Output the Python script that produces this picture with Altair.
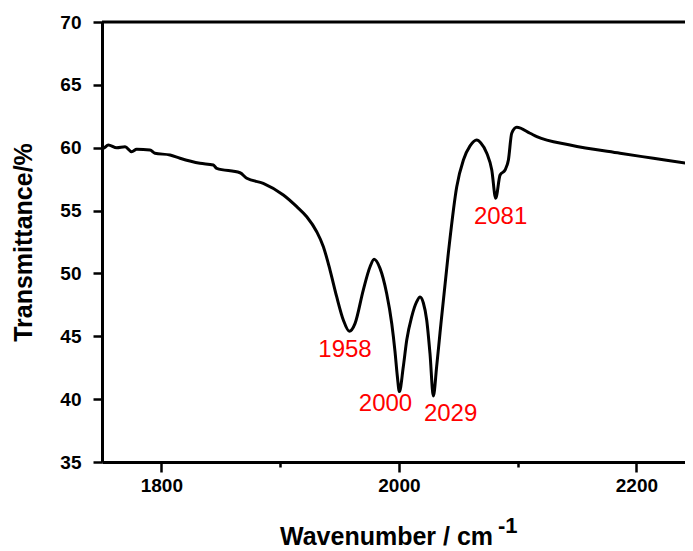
import altair as alt
import pandas as pd

# Spectrum (wavenumber in cm-1, transmittance in %)
wavenumber = [1750.0, 1751.1, 1755.3, 1762.4, 1769.4, 1775.0, 1779.2, 1790.4, 1794.6, 1807.3,
              1815.7, 1832.5, 1843.7, 1846.6, 1866.2, 1871.9, 1885.8, 1902.7, 1914.0, 1922.4,
              1930.8, 1936.4, 1942.0, 1947.6, 1953.2, 1958.3, 1963.1, 1970.0, 1975.7, 1979.1,
              1984.1, 1989.7, 1994.0, 1996.7, 1998.7, 2000.4, 2003.7, 2006.6, 2010.8, 2015.0,
              2017.8, 2020.6, 2023.4, 2026.2, 2029.0, 2031.8, 2034.6, 2041.6, 2048.7, 2054.3,
              2059.9, 2065.5, 2069.0, 2074.0, 2078.2, 2081.5, 2085.2, 2089.4, 2092.2, 2095.0,
              2099.2, 2110.4, 2116.1, 2144.1, 2186.2, 2214.3, 2246.6, 2250.0]
transmittance = [59.95, 59.95, 60.22, 60.00, 60.08, 59.68, 59.87, 59.82, 59.56, 59.42,
                 59.16, 58.76, 58.62, 58.36, 58.01, 57.57, 57.17, 56.24, 55.31, 54.51,
                 53.32, 52.13, 50.27, 48.15, 46.30, 45.40, 46.03, 48.68, 50.53, 51.12,
                 50.40, 48.40, 46.00, 43.80, 41.80, 40.60, 42.58, 44.70, 46.56, 47.75,
                 48.12, 47.65, 46.30, 43.60, 40.25, 42.60, 45.26, 51.60, 56.90, 59.02,
                 60.14, 60.61, 60.38, 59.56, 58.23, 55.98, 57.83, 58.23, 59.02, 61.15,
                 61.62, 61.15, 60.88, 60.22, 59.56, 59.16, 58.70, 58.65]

peak_labels = ["1958", "2000", "2029", "2081"]
peak_label_x = [1954.6, 1988.7, 2043.5, 2085.6]
peak_label_y = [43.9, 39.6, 38.85, 54.5]

x_ticks = [1800, 1900, 2000, 2100, 2200]
y_ticks = [35, 37.5, 40, 42.5, 45, 47.5, 50, 52.5, 55, 57.5, 60, 62.5, 65, 67.5, 70]

W = 583
H = 440
FONT = "Liberation Sans"

spec = pd.DataFrame({"wn": wavenumber, "T": transmittance})
labels = pd.DataFrame({"label": peak_labels, "wn": peak_label_x, "T": peak_label_y})

xscale = alt.Scale(domain=[1750, 2240.9], nice=False, zero=False)
yscale = alt.Scale(domain=[35, 70], nice=False, zero=False)

xaxis = alt.Axis(
    values=x_ticks, title=None, grid=False, format="d",
    labelExpr="datum.value % 200 == 0 ? datum.label : ''",
    labelFont=FONT, labelFontSize=19, labelFontWeight="bold", labelColor="black",
    labelPadding=4, labelFlush=False,
    tickSize=alt.condition("datum.value % 200 == 0", alt.value(10), alt.value(5)),
    tickWidth=2.5, tickColor="black", domainColor="black", domainWidth=3,
)
yaxis = alt.Axis(
    values=y_ticks, title="Transmittance/%", grid=False, format="d",
    labelExpr="datum.value % 5 == 0 ? datum.label : ''",
    labelFont=FONT, labelFontSize=19, labelFontWeight="bold", labelColor="black",
    labelPadding=12, labelFlush=False,
    tickSize=alt.condition("datum.value % 5 == 0", alt.value(9), alt.value(5)),
    tickWidth=2.5, tickColor="black", domainColor="black", domainWidth=3,
    titleFont=FONT, titleFontSize=25, titleFontWeight="bold", titleColor="black",
    titlePadding=23,
)

line = alt.Chart(spec).mark_line(
    color="black", strokeWidth=3, interpolate="monotone", clip=True
).encode(
    x=alt.X("wn:Q", scale=xscale, axis=xaxis),
    y=alt.Y("T:Q", scale=yscale, axis=yaxis),
)

text = alt.Chart(labels).mark_text(
    color="#ff0000", font=FONT, fontSize=24, align="center", baseline="middle"
).encode(
    x=alt.X("wn:Q", scale=xscale),
    y=alt.Y("T:Q", scale=yscale),
    text="label:N",
)

top_border = alt.Chart(pd.DataFrame({"a": [0]})).mark_rule(
    color="black", strokeWidth=3
).encode(x=alt.value(0), x2=alt.value(W), y=alt.value(0))

xtitle = alt.Chart(pd.DataFrame({"t": ["Wavenumber / cm"]})).mark_text(
    font=FONT, fontSize=25, fontWeight="bold", color="black", align="left", baseline="alphabetic"
).encode(x=alt.value(178), y=alt.value(523), text="t:N")

xsup = alt.Chart(pd.DataFrame({"t": ["-1"]})).mark_text(
    font=FONT, fontSize=22, fontWeight="bold", color="black", align="left", baseline="alphabetic"
).encode(x=alt.value(396), y=alt.value(511), text="t:N")

chart = alt.layer(line, text, top_border, xtitle, xsup).properties(
    width=W, height=H,
    autosize=alt.AutoSizeParams(type="none"),
    padding={"left": 94, "top": 14, "right": 0, "bottom": 87},
).configure_view(stroke=None).configure(background="white")

chart.save("out.html", embed_options={"renderer": "svg", "actions": False})
